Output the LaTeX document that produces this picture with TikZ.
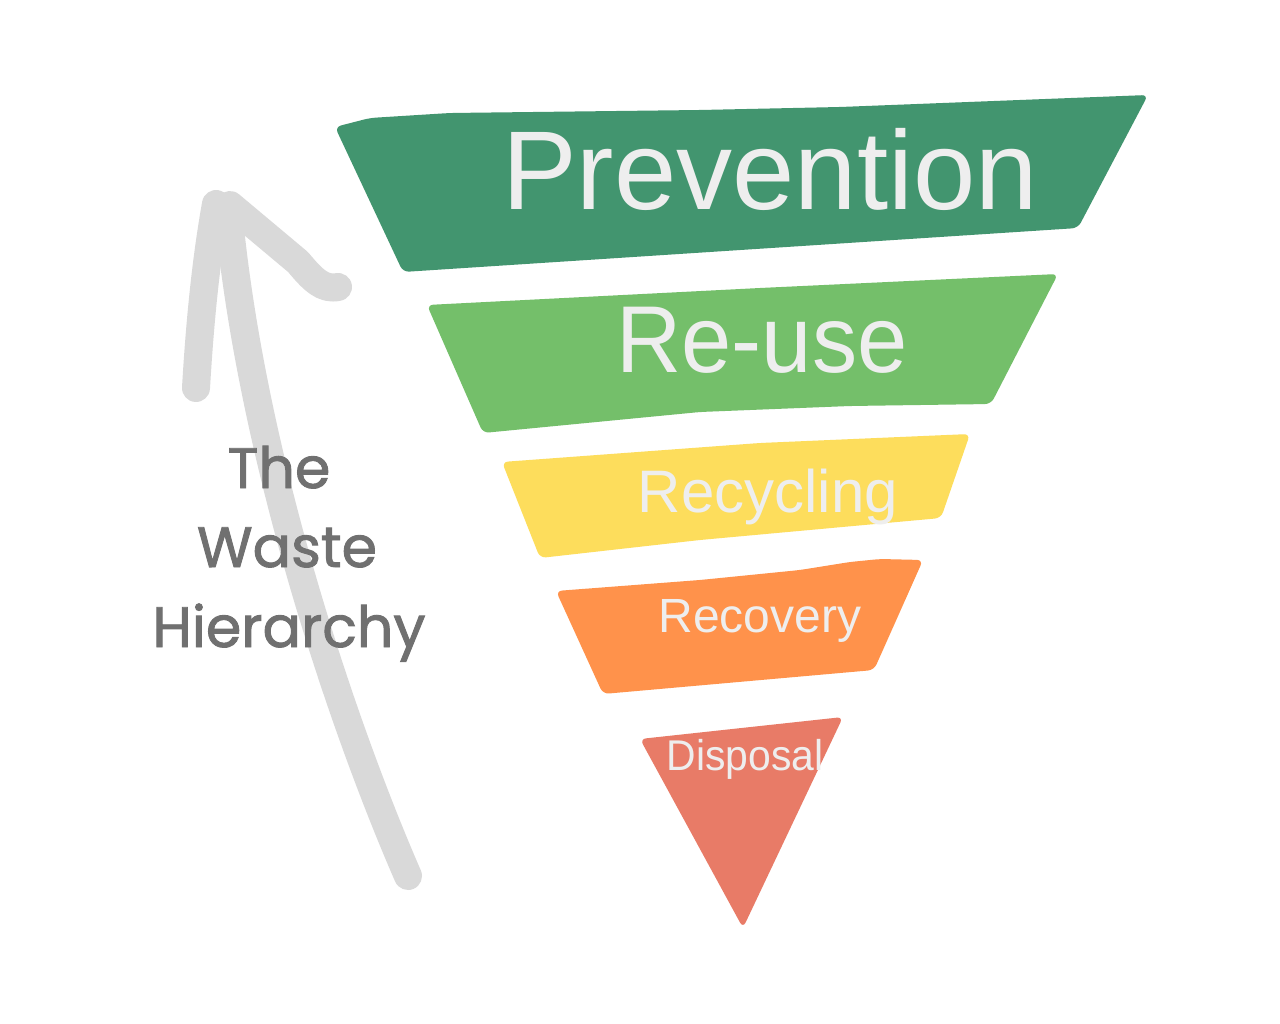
\documentclass[tikz,border=0pt]{standalone}
\usepackage{fontspec}
\newfontfamily\tierfont{Liberation Sans}
\newfontfamily\narrowfont{Liberation Sans}[FakeStretch=0.95]
\newfontfamily\sidefont{Poppins}[FakeBold=1.6]
\definecolor{prevcol}{HTML}{42956F}
\definecolor{reusecol}{HTML}{74BF6A}
\definecolor{recyccol}{HTML}{FDDD5C}
\definecolor{recovcol}{HTML}{FF924B}
\definecolor{dispcol}{HTML}{E87B67}
\definecolor{arrowcol}{HTML}{D9D9D9}
\definecolor{sidecol}{HTML}{707070}
\definecolor{tiertext}{HTML}{EEEEEE}
\begin{document}
\begin{tikzpicture}[x=1pt, y=-1pt,
    tier/.style={rounded corners=6pt},
    stroke/.style={arrowcol, line width=28pt, line cap=round, line join=round},
    tierlabel/.style={anchor=base, inner sep=0pt, text=tiertext},
    sidelabel/.style={anchor=base, inner sep=0pt, text=sidecol, font=\sidefont\fontsize{57}{60}\selectfont}]
                \useasboundingbox[fill=white] (0,0) rectangle (1280,1024);

                % hand drawn arrow
                \draw[stroke] (408,876) .. controls (340,720) and (250,450) .. (228,208);
                \draw[stroke] (216,204) .. controls (206,260) and (200,320) .. (196,388);
                \draw[stroke] (230,205) -- (298,262) .. controls (313,280) and (323,290) .. (338,287);

                % tiers
                \fill[prevcol, tier] (335,127) -- (370,118) -- (450,113) -- (700,110) -- (840,107) -- (1148,95)
                    -- (1078,228) -- (403,272) -- cycle;
                \fill[reusecol, tier] (427,305) -- (760,288) -- (1058,274)
                    -- (991,404) -- (850,406) -- (700,412) -- (483,433) -- cycle;
                \fill[recyccol, tier] (502,462) -- (760,443) -- (970,434)
                    -- (941,518) -- (700,540) -- (540,558) -- cycle;
                \fill[recovcol, tier] (556,591) -- (700,580) -- (800,570) -- (850,562) -- (880,559) -- (923,560)
                    -- (874,670) -- (603,694) -- cycle;
                \fill[dispcol, tier] (640,739) -- (843,717) -- (743,928) -- cycle;

                \node[tierlabel, font=\tierfont\fontsize{112}{112}\selectfont] (prev) at (770,210) {Prevention};
                \node[tierlabel, font=\narrowfont\fontsize{95}{95}\selectfont] (reuse) at (762,372) {Re-use};
                \node[tierlabel, font=\tierfont\fontsize{60}{60}\selectfont] (recyc) at (768,512) {Recycling};
                \node[tierlabel, font=\tierfont\fontsize{48}{48}\selectfont] (recov) at (760,632) {Recovery};
                \node[tierlabel, font=\narrowfont\fontsize{43}{43}\selectfont] (disp) at (745,770) {Disposal};

                \node[sidelabel] (the) at (279,488) {The};
                \node[sidelabel] (waste) at (287,567) {Waste};
                \node[sidelabel] (hier) at (289,647) {Hierarchy};
            \end{tikzpicture}
\end{document}
